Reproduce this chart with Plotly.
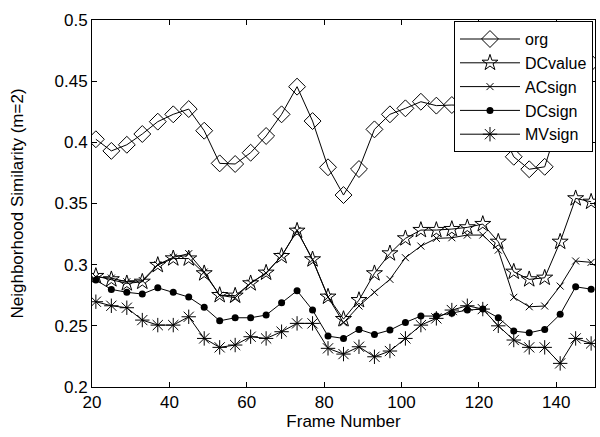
import plotly.graph_objects as go

frames = list(range(21, 150, 4))  # 21, 25, ..., 149

org = [0.4025, 0.393, 0.398, 0.4068, 0.4169, 0.4229, 0.4272, 0.4095, 0.3828, 0.3823,
       0.3915, 0.4052, 0.4229, 0.4455, 0.4174, 0.3796, 0.3569, 0.3782, 0.4106, 0.4229,
       0.4278, 0.4332, 0.430, 0.4305, 0.430, 0.430, 0.415, 0.3882, 0.378, 0.380,
       0.420, 0.455, 0.465]

dcvalue = [0.2907, 0.288, 0.2847, 0.286, 0.2997, 0.3051, 0.305, 0.2929, 0.2751, 0.2746,
           0.2847, 0.2934, 0.307, 0.3277, 0.3043, 0.2738, 0.2555, 0.271, 0.2929, 0.3092,
           0.3215, 0.3283, 0.3283, 0.3291, 0.3305, 0.3332, 0.3187, 0.2942, 0.288, 0.2893,
           0.3187, 0.3542, 0.3514]

acsign = [0.290, 0.289, 0.286, 0.287, 0.300, 0.306, 0.309, 0.294, 0.275, 0.273,
          0.285, 0.293, 0.307, 0.328, 0.304, 0.2735, 0.2525, 0.2662, 0.2774, 0.288,
          0.3057, 0.3152, 0.3215, 0.322, 0.3242, 0.3242, 0.3119, 0.2733, 0.2656, 0.2662,
          0.2825, 0.303, 0.3019]

dcsign = [0.2874, 0.2798, 0.2774, 0.276, 0.2811, 0.2774, 0.2735, 0.2651, 0.2541, 0.2566,
          0.2566, 0.2588, 0.2689, 0.2787, 0.2629, 0.2416, 0.2397, 0.2471, 0.243, 0.2465,
          0.2528, 0.258, 0.258, 0.2602, 0.2629, 0.2637, 0.2566, 0.2457, 0.2443, 0.2471,
          0.2594, 0.2819, 0.280]

mvsign = [0.2697, 0.2664, 0.2648, 0.2547, 0.2506, 0.2506, 0.2574, 0.2397, 0.2324, 0.2343,
          0.2411, 0.2397, 0.2452, 0.252, 0.252, 0.2316, 0.2269, 0.2329, 0.2247, 0.2294,
          0.2397, 0.2506, 0.2561, 0.2629, 0.2664, 0.2637, 0.25, 0.2384, 0.2324, 0.2324,
          0.2193, 0.2397, 0.2356]

series = [
    ("org", org, dict(symbol="diamond-open", size=13, line=dict(width=1, color="black"))),
    ("DCvalue", dcvalue, dict(symbol="star-open", size=12, line=dict(width=1, color="black"))),
    ("ACsign", acsign, dict(symbol="x-thin-open", size=7, line=dict(width=1, color="black"))),
    ("DCsign", dcsign, dict(symbol="circle", size=7, color="black")),
    ("MVsign", mvsign, dict(symbol="asterisk-open", size=12, line=dict(width=1, color="black"))),
]

fig = go.Figure()
for name, vals, marker in series:
    m = dict(color="black")
    m.update(marker)
    fig.add_trace(go.Scatter(x=frames, y=vals, name=name, mode="lines+markers",
                             line=dict(color="black", width=1), marker=m))

FAM = "Liberation Sans, Arial, sans-serif"
font = dict(family=FAM, size=17, color="black")

fig.update_layout(
    width=600, height=437,
    margin=dict(l=92, r=5, t=20, b=50),
    paper_bgcolor="white", plot_bgcolor="white",
    font=font,
    showlegend=True,
    legend=dict(x=0.996, y=0.997, xanchor="right", yanchor="top",
                bgcolor="white", bordercolor="black", borderwidth=1,
                font=dict(family=FAM, size=16, color="black"),
                itemwidth=60, tracegroupgap=0),
)
fig.update_xaxes(range=[20, 150], tickvals=[20, 40, 60, 80, 100, 120, 140],
                 ticks="inside", ticklen=5, tickcolor="black", showgrid=False, zeroline=False,
                 showline=True, linecolor="black", linewidth=1, mirror="ticks",
                 title=dict(text="Frame Number", standoff=2, font=font), tickfont=font)
fig.update_yaxes(range=[0.2, 0.5], tickvals=[0.2, 0.25, 0.3, 0.35, 0.4, 0.45, 0.5],
                 ticktext=["0.2", "0.25", "0.3", "0.35", "0.4", "0.45", "0.5"],
                 ticks="inside", ticklen=5, tickcolor="black", showgrid=False, zeroline=False,
                 showline=True, linecolor="black", linewidth=1, mirror="ticks",
                 title=dict(text="Neighborhood Similarity (m=2)", standoff=26, font=font),
                 tickfont=font)

fig.write_html("out.html", config={"displayModeBar": False},
               post_script="document.body.style.margin='0';")
